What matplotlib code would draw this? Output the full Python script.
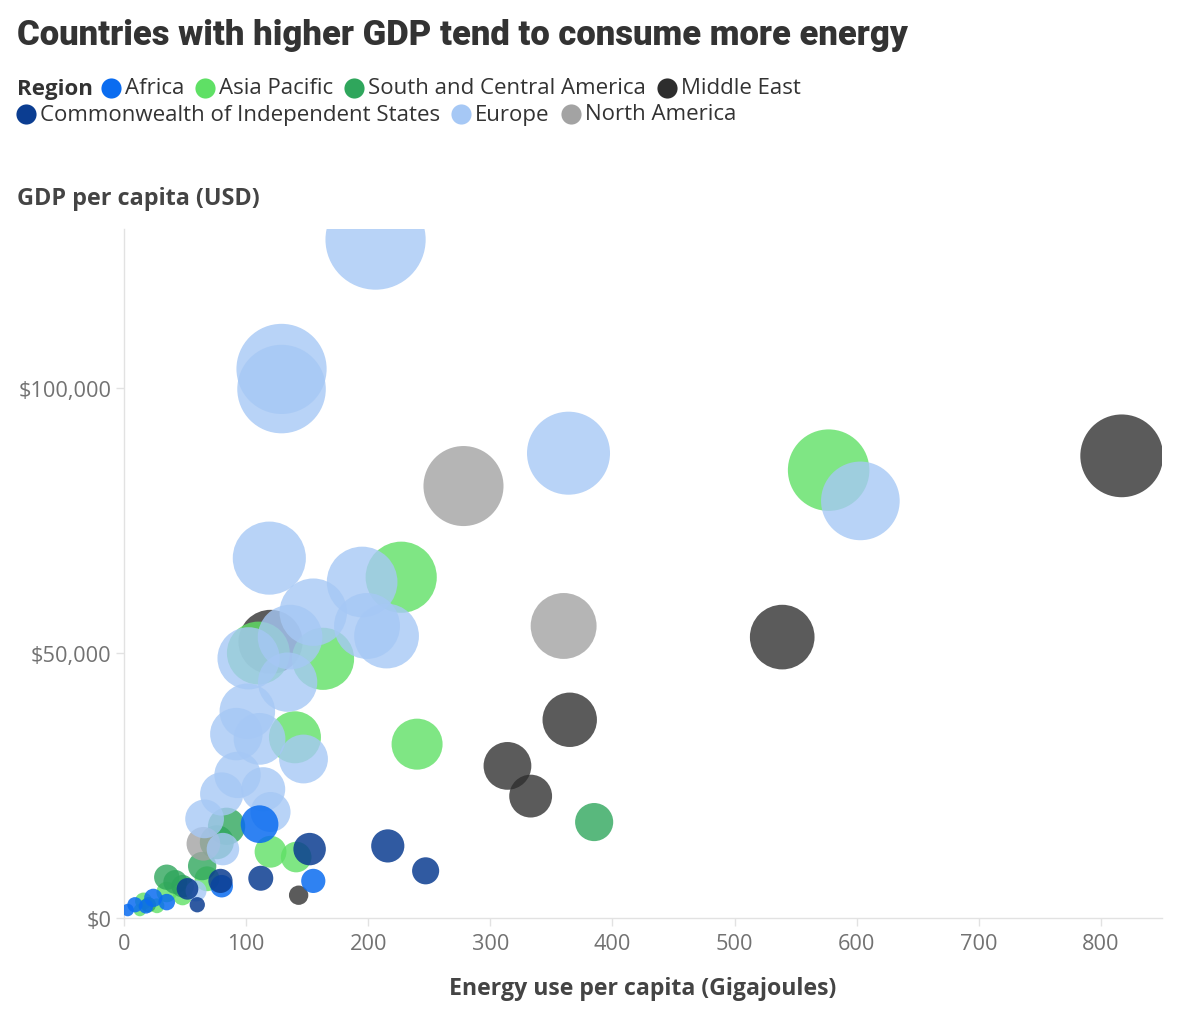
import matplotlib
matplotlib.use("Agg")
import matplotlib.pyplot as plt
from matplotlib.lines import Line2D
from matplotlib.ticker import FuncFormatter
import numpy as np

# ---------------- data ----------------
regions = ["Africa", "Asia Pacific", "South and Central America", "Middle East",
           "Commonwealth of Independent States", "Europe", "North America"]
region_colors = ["#0a6cf0", "#5fe065", "#2fa65c", "#2d2d2d", "#0b3d91", "#a6c8f5", "#a3a3a3"]

africa_energy = [111, 155, 80, 3, 9, 24, 35, 18]
africa_gdp = [17700, 7000, 6000, 1500, 2500, 3800, 3000, 2200]

asia_energy = [577, 227, 163, 110, 140, 240, 120, 141, 16, 27, 48, 68, 13, 35]
asia_gdp = [84500, 64300, 48900, 50000, 34100, 32800, 12500, 11500, 3200, 2300, 4200, 7400, 1500, 4900]

sca_energy = [385, 84, 76, 64, 35, 42, 48, 20]
sca_gdp = [18100, 17300, 14300, 9800, 7700, 6800, 6000, 2500]

me_energy = [817, 539, 365, 314, 333, 120, 143]
me_gdp = [87200, 53000, 37400, 28700, 23000, 52100, 4300]

cis_energy = [216, 247, 152, 112, 60, 79, 52]
cis_gdp = [13600, 8900, 13000, 7500, 2500, 7000, 5500]

europe_energy = [206, 129, 129, 364, 603, 119, 195, 199, 215, 155, 136, 102, 134,
                 101, 92, 111, 147, 93, 114, 80, 66, 81, 59, 120]
europe_gdp = [128000, 103600, 99800, 87700, 78700, 67900, 63400, 55100, 53200, 57700,
              53000, 49000, 44500, 39000, 34700, 33800, 30000, 27000, 24300, 23400,
              18700, 13000, 5100, 20000]

na_energy = [278, 360, 65]
na_gdp = [81500, 55100, 14000]

series_energy = [africa_energy, asia_energy, sca_energy, me_energy, cis_energy, europe_energy, na_energy]
series_gdp = [africa_gdp, asia_gdp, sca_gdp, me_gdp, cis_gdp, europe_gdp, na_gdp]

x_ticks = [0, 100, 200, 300, 400, 500, 600, 700, 800]
y_ticks = [0, 50000, 100000]

title = "Countries with higher GDP tend to consume more energy"
x_label = "Energy use per capita (Gigajoules)"
y_label = "GDP per capita (USD)"

# ---------------- style ----------------
W, H = 1200, 1020
DPI = 100
body_font = ["Open Sans", "DejaVu Sans"]
title_font = ["Roboto", "DejaVu Sans"]

fig = plt.figure(figsize=(W / DPI, H / DPI), dpi=DPI)
fig.patch.set_facecolor("white")

ax = fig.add_axes([124 / W, 1 - 919 / H, (1162 - 124) / W, (919 - 230) / H])
ax.set_xlim(0, 850)
ax.set_ylim(0, 130000)

draw_order = [3, 1, 2, 6, 5, 0, 4]
alphas = {0: 0.85, 1: 0.8, 2: 0.8, 3: 0.78, 4: 0.85, 5: 0.8, 6: 0.8}
size_k = 0.0405  # marker area (pt^2) per USD
for i in draw_order:
    e = np.array(series_energy[i], dtype=float)
    g = np.array(series_gdp[i], dtype=float)
    ax.scatter(e, g, s=g * size_k + 20, color=region_colors[i], alpha=alphas[i],
               linewidths=0, zorder=3)

for side in ["top", "right"]:
    ax.spines[side].set_visible(False)
for side in ["left", "bottom"]:
    ax.spines[side].set_color("#e2e2e2")
    ax.spines[side].set_linewidth(1.0)

ax.set_xticks(x_ticks)
ax.set_yticks(y_ticks)
ax.yaxis.set_major_formatter(FuncFormatter(lambda v, p: "${:,.0f}".format(v)))
ax.tick_params(axis="both", colors="#e2e2e2", labelcolor="#727272", labelsize=15.7,
               length=6, width=1)
ax.tick_params(axis="y", pad=3)
ax.tick_params(axis="x", pad=5)
for lab in ax.get_xticklabels() + ax.get_yticklabels():
    lab.set_fontfamily(body_font)

# titles / labels
fig.text(17 / W, 1 - 36 / H, title, fontsize=24.9, fontweight="black", color="#333333",
         family=title_font, va="center", ha="left")
fig.text(17 / W, 1 - 199 / H, y_label, fontsize=16.8, fontweight="bold", color="#444444",
         family=body_font, va="center", ha="left")
fig.text(643 / W, 1 - 989 / H, x_label, fontsize=16.7, fontweight="bold", color="#444444",
         family=body_font, va="center", ha="center")

# legend, laid out manually in two rows
fig.canvas.draw()
renderer = fig.canvas.get_renderer()

def put_text(xpx, ypx, s, **kw):
    t = fig.text(xpx / W, 1 - ypx / H, s, va="center", ha="left", **kw)
    bb = t.get_window_extent(renderer=renderer)
    return xpx + bb.width

def put_dot(xc, ypx, color):
    fig.add_artist(Line2D([xc / W], [1 - ypx / H], marker="o", markersize=14.5,
                          markerfacecolor=color, markeredgewidth=0, linestyle="none",
                          transform=fig.transFigure))

rows = [[0, 1, 2, 3], [4, 5, 6]]
row_y = [89, 115]
x = put_text(17, row_y[0], "Region", fontsize=16, fontweight="bold", color="#333333",
             family=body_font)
x += 8
for r, items in enumerate(rows):
    if r == 1:
        x = 16
    for i in items:
        put_dot(x + 10, row_y[r], region_colors[i])
        x = put_text(x + 24, row_y[r], regions[i], fontsize=16, color="#333333",
                     family=body_font)
        x += 11

fig.savefig("out.png", dpi=DPI, facecolor="white")
